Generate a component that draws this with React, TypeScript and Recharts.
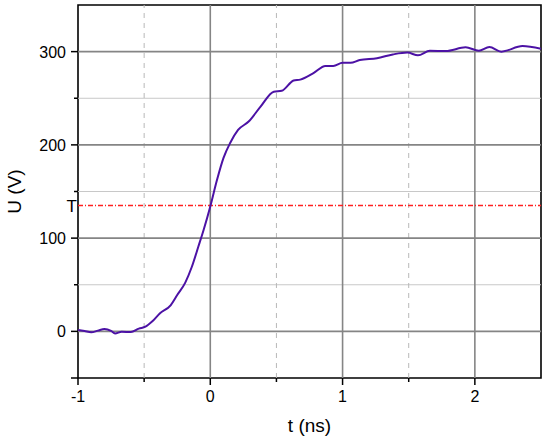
import React from "react";
import {
  LineChart,
  Line,
  XAxis,
  YAxis,
  ReferenceLine,
  ReferenceArea,
} from "recharts";

// time (ns) and voltage (V)
const TIME = [
  -1, -0.95, -0.9, -0.85, -0.8, -0.75, -0.72, -0.67, -0.6, -0.54, -0.49, -0.44,
  -0.38, -0.3, -0.25, -0.19, -0.14, -0.09, -0.05, 0, 0.05, 0.1, 0.15, 0.21,
  0.29, 0.38, 0.48, 0.54, 0.63, 0.68, 0.78, 0.87, 0.93, 1.0, 1.06, 1.13, 1.26,
  1.38, 1.49, 1.57, 1.66, 1.78, 1.93, 2.03, 2.11, 2.2, 2.36, 2.5,
];
const VOLTAGE = [
  1.6, 0.3, -1, 0.8, 2.5, 0.5, -2.2, -0.5, -0.8, 3, 5, 10.5, 19.5, 28, 39, 52, 69, 91,
  109, 134, 162, 186, 202, 216, 225, 241, 257, 258, 269, 270, 277, 284.6, 284.6,
  288, 288, 291, 293, 297, 299, 296, 301, 300.6, 304.6, 301, 305, 300, 306, 303,
];

const X_TICKS = [-1, -0.5, 0, 0.5, 1, 1.5, 2];
const Y_TICKS = [-50, 0, 50, 100, 150, 200, 250, 300];
const X_MAJOR_GRID = [0, 1, 2];
const X_MINOR_GRID = [-0.5, 0.5, 1.5];
const Y_MAJOR_GRID = [0, 100, 200, 300];
const Y_MINOR_GRID = [50, 150, 250];
const THRESHOLD = 135;

const data = TIME.map((t, i) => ({ t, u: VOLTAGE[i] }));

const FONT = "Arial, 'Liberation Sans', sans-serif";

const XTick = ({ x, y, payload }: any) => {
  const major = Number.isInteger(payload.value);
  return (
    <g>
      <line x1={x} x2={x} y1={y} y2={y + (major ? 7 : 4)} stroke="#000" strokeWidth={1.5} />
      {major && (
        <text x={x} y={y + 24} textAnchor="middle" fontSize={16} fontFamily={FONT} fill="#000">
          {payload.value}
        </text>
      )}
    </g>
  );
};

const YTick = ({ x, y, payload }: any) => {
  const v = payload.value;
  const major = v % 100 === 0 || v === -50;
  return (
    <g>
      <line x1={x} x2={x - (major ? 7 : 4)} y1={y} y2={y} stroke="#000" strokeWidth={1.5} />
      {v % 100 === 0 && (
        <text x={x - 12} y={y + 6} textAnchor="end" fontSize={16} fontFamily={FONT} fill="#000">
          {v}
        </text>
      )}
    </g>
  );
};

const XLabel = ({ viewBox }: any) => (
  <text x={viewBox.x + viewBox.width / 2} y={432} textAnchor="middle" fontSize={19} fontFamily={FONT} fill="#000">
    t (ns)
  </text>
);

const YLabel = ({ viewBox }: any) => {
  const cy = viewBox.y + viewBox.height / 2;
  return (
    <text x={21} y={cy} transform={`rotate(-90 21 ${cy})`} textAnchor="middle" fontSize={19} fontFamily={FONT} fill="#000">
      U (V)
    </text>
  );
};

// dash-dot red threshold line with a "T" just left of the axis
const ThresholdShape = (p: any) => {
  const y = Math.round(p.y1) + 0.5;
  return (
    <g>
      <line x1={p.x1} y1={y} x2={p.x2} y2={y} stroke="#ff2020" strokeWidth={1.3} strokeDasharray="5 2 1 2" />
      <text x={p.x1 - 1} y={y + 6} textAnchor="end" fontSize={17} fontFamily={FONT} fill="#000">
        T
      </text>
    </g>
  );
};

export default function App() {
  return (
    <div style={{ position: "absolute", left: 0, top: 0, background: "#fff" }}>
      <LineChart width={550} height={440} data={data} margin={{ top: 5, right: 9, left: 8, bottom: 12 }}>
        {Y_MINOR_GRID.map((v) => (
          <ReferenceLine key={"ym" + v} y={v} stroke="#c8c8c8" strokeWidth={1} />
        ))}
        {X_MINOR_GRID.map((v) => (
          <ReferenceLine key={"xm" + v} x={v} stroke="#b8b8b8" strokeWidth={1} strokeDasharray="5 5" />
        ))}
        {Y_MAJOR_GRID.map((v) => (
          <ReferenceLine key={"yM" + v} y={v} stroke="#858585" strokeWidth={1.6} />
        ))}
        {X_MAJOR_GRID.map((v) => (
          <ReferenceLine key={"xM" + v} x={v} stroke="#858585" strokeWidth={1.6} />
        ))}
        <ReferenceLine y={THRESHOLD} shape={ThresholdShape} />
        <XAxis
          dataKey="t"
          type="number"
          domain={[-1, 2.5]}
          ticks={X_TICKS}
          tick={<XTick />}
          tickLine={false}
          tickSize={0}
          tickMargin={0}
          axisLine={false}
          height={50}
          allowDataOverflow
          label={<XLabel />}
        />
        <YAxis
          type="number"
          domain={[-50, 350]}
          ticks={Y_TICKS}
          tick={<YTick />}
          tickLine={false}
          tickSize={0}
          tickMargin={0}
          axisLine={false}
          width={70}
          allowDataOverflow
          label={<YLabel />}
        />
        <ReferenceArea x1={-1} x2={2.5} y1={-50} y2={350} fill="none" stroke="#000" strokeWidth={1.6} />
        <Line
          type="monotone"
          dataKey="u"
          stroke="#4c12a5"
          strokeWidth={2}
          dot={false}
          isAnimationActive={false}
        />
      </LineChart>
    </div>
  );
}
